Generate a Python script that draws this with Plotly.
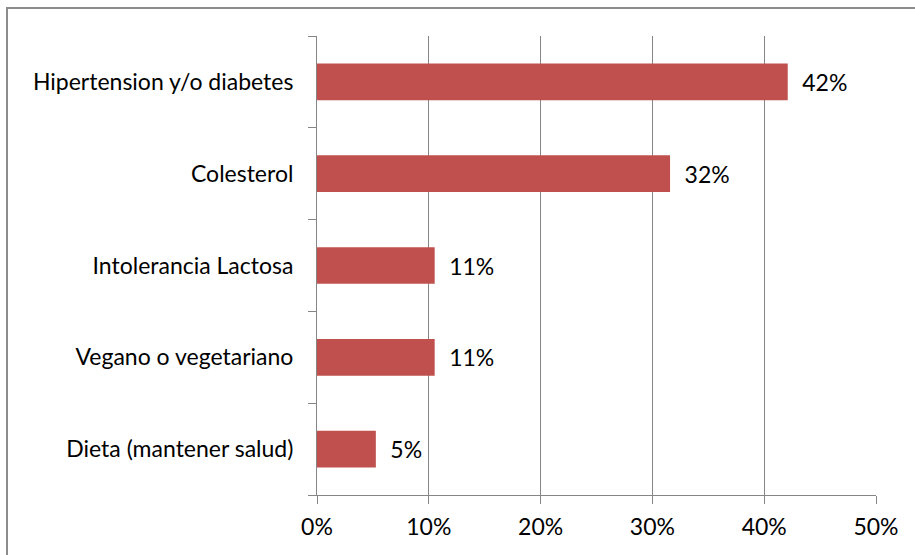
import plotly.graph_objects as go

# Share of respondents by dietary reason (8, 6, 2, 2, 1 out of 19)
categories = [
    "Dieta (mantener salud)",
    "Vegano o vegetariano",
    "Intolerancia Lactosa",
    "Colesterol",
    "Hipertension y/o diabetes",
]
shares = [1 / 19, 2 / 19, 2 / 19, 6 / 19, 8 / 19]
x_ticks = [0, 0.1, 0.2, 0.3, 0.4, 0.5]

W, H = 915, 555
ML, MR, MT, MB = 317, 39, 36, 60
FONT = "Lato, 'Open Sans', sans-serif"
FS = 23
GRID = "#868686"
BAR = "#C0504D"

fig = go.Figure(
    go.Bar(
        x=shares,
        y=categories,
        orientation="h",
        marker=dict(color=BAR, line=dict(width=0)),
        texttemplate="\u2002%{x:.0%}",
        textposition="outside",
        cliponaxis=False,
        textfont=dict(family=FONT, size=FS, color="#000000"),
        hoverinfo="skip",
    )
)

pw = W - ML - MR
ph = H - MT - MB
# outer chart frame (runs past the right and bottom edges)
fig.add_shape(
    type="rect",
    xref="paper",
    yref="paper",
    x0=(7 - ML) / pw,
    x1=(W + 20 - ML) / pw,
    y0=-(MB + 20) / ph,
    y1=1 + (MT - 8) / ph,
    line=dict(color="#8c8c8c", width=2),
    layer="below",
)

fig.update_layout(
    width=W,
    height=H,
    margin=dict(l=ML, r=MR, t=MT, b=MB, pad=0),
    paper_bgcolor="white",
    plot_bgcolor="white",
    bargap=0.6,
    showlegend=False,
    font=dict(family=FONT, size=FS, color="#000000"),
    xaxis=dict(
        range=[0, 0.5],
        tickvals=x_ticks,
        tickformat=".0%",
        showgrid=True,
        gridcolor=GRID,
        gridwidth=1,
        zeroline=False,
        showline=True,
        linecolor=GRID,
        linewidth=1,
        ticks="outside",
        ticklen=8,
        tickcolor=GRID,
        ticklabelstandoff=3,
        tickfont=dict(family=FONT, size=FS, color="#000000"),
        fixedrange=True,
    ),
    yaxis=dict(
        type="category",
        categoryorder="array",
        categoryarray=categories,
        tickson="boundaries",
        ticks="outside",
        ticklen=8,
        tickcolor=GRID,
        showline=True,
        linecolor=GRID,
        linewidth=1,
        showgrid=False,
        zeroline=False,
        ticklabelstandoff=18,
        tickfont=dict(family=FONT, size=FS, color="#000000"),
        fixedrange=True,
    ),
)

fig.write_html("out.html")
